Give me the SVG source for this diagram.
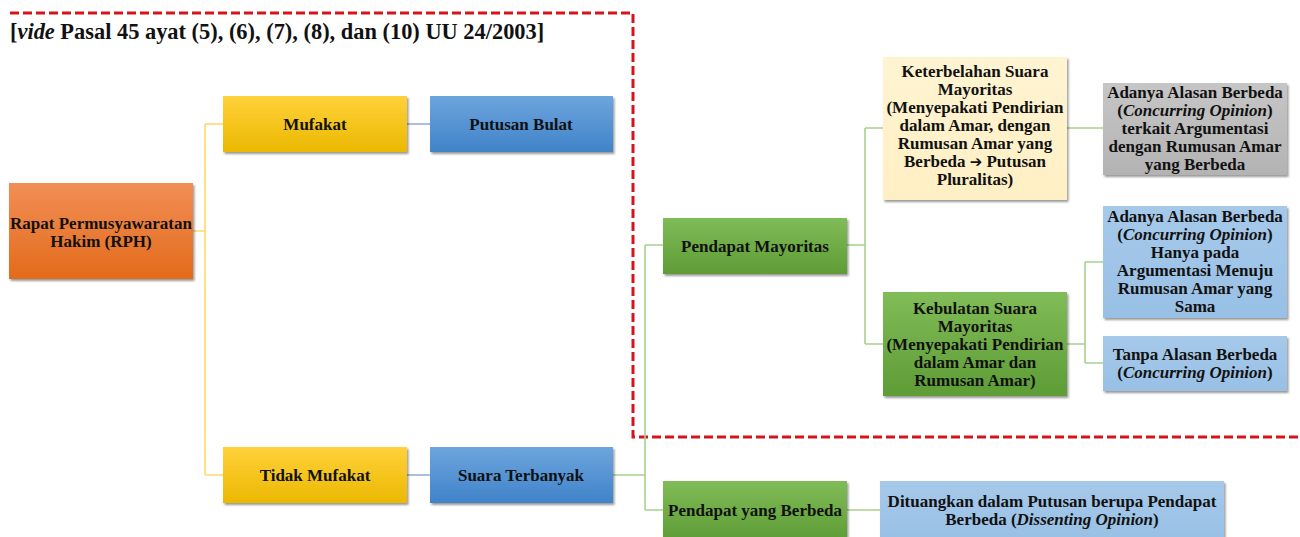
<svg xmlns="http://www.w3.org/2000/svg" width="1300" height="537" viewBox="0 0 1300 537" font-family="'Liberation Serif', 'Times New Roman', 'DejaVu Serif', serif">
<style>
text{font-family:"Liberation Serif","Times New Roman","DejaVu Serif",serif;font-weight:bold;font-size:17px;fill:#111;text-anchor:middle}
.title{font-size:22.4px;text-anchor:start}
.i{font-style:italic}
.ar{font-family:"DejaVu Sans",sans-serif;font-size:15px}
.c{fill:none;stroke-width:1.6}
.cy{stroke:#FFD966}
.cb{stroke:#8FAADC}
.cg{stroke:#A9D18E}
.box{filter:url(#sh)}
</style>
<defs>
<filter id="sh" x="-10%" y="-10%" width="125%" height="130%"><feDropShadow dx="1.5" dy="2" stdDeviation="1.3" flood-color="#000" flood-opacity="0.4"/></filter>
<linearGradient id="gOr" x1="0" y1="0" x2="0" y2="1"><stop offset="0" stop-color="#F28E55"/><stop offset="1" stop-color="#E26B1B"/></linearGradient>
<linearGradient id="gYe" x1="0" y1="0" x2="0" y2="1"><stop offset="0" stop-color="#FFD23C"/><stop offset="1" stop-color="#EBB800"/></linearGradient>
<linearGradient id="gBl" x1="0" y1="0" x2="0" y2="1"><stop offset="0" stop-color="#6DA5DE"/><stop offset="1" stop-color="#4083C9"/></linearGradient>
<linearGradient id="gGr" x1="0" y1="0" x2="0" y2="1"><stop offset="0" stop-color="#80BC57"/><stop offset="1" stop-color="#5E9C36"/></linearGradient>
<linearGradient id="gGy" x1="0" y1="0" x2="0" y2="1"><stop offset="0" stop-color="#C6C6C6"/><stop offset="1" stop-color="#B3B3B3"/></linearGradient>
<linearGradient id="gLb" x1="0" y1="0" x2="0" y2="1"><stop offset="0" stop-color="#A6C9EA"/><stop offset="1" stop-color="#98C0E5"/></linearGradient>
<linearGradient id="gLy" x1="0" y1="0" x2="0" y2="1"><stop offset="0" stop-color="#FFF4D2"/><stop offset="1" stop-color="#FFEFC4"/></linearGradient>
</defs>
<rect width="1300" height="537" fill="#fff"/>
<text class="title" x="10" y="39">[<tspan class="i">vide</tspan> Pasal 45 ayat (5), (6), (7), (8), dan (10) UU 24/2003]</text>
<path d="M10,13 H633 V437 H1300" fill="none" stroke="#D7141C" stroke-width="3" stroke-dasharray="9,4"/>
<g id="connectors">
<path class="c cy" d="M193,231 H205 M205,124 V475 M205,124 H223 M205,475 H223"/>
<path class="c cb" d="M407,124 H430 M407,475 H430"/>
<path class="c cg" d="M613,475 H645 M645,245 V510 M645,245 H663 M645,510 H663"/>
<path class="c cg" d="M847,245 H865 M865,128 V344 M865,128 H883 M865,344 H883"/>
<path class="c cg" d="M1067,128 H1103"/>
<path class="c cg" d="M1067,344 H1085 M1085,262 V363 M1085,262 H1103 M1085,363 H1103"/>
<path class="c cg" d="M847,510 H880"/>
</g>
<g id="rph"><rect class="box" x="9" y="183" width="184" height="96" fill="url(#gOr)"/><text x="101" y="229">Rapat Permusyawaratan</text><text x="101" y="247">Hakim (RPH)</text></g>
<g id="mufakat"><rect class="box" x="223" y="96" width="184" height="56" fill="url(#gYe)"/><text x="315" y="130">Mufakat</text></g>
<g id="putusan-bulat"><rect class="box" x="430" y="96" width="183" height="56" fill="url(#gBl)"/><text x="521" y="130">Putusan Bulat</text></g>
<g id="tidak-mufakat"><rect class="box" x="223" y="447" width="184" height="56" fill="url(#gYe)"/><text x="315" y="481">Tidak Mufakat</text></g>
<g id="suara-terbanyak"><rect class="box" x="430" y="447" width="183" height="56" fill="url(#gBl)"/><text x="521" y="481">Suara Terbanyak</text></g>
<g id="pendapat-mayoritas"><rect class="box" x="663" y="218" width="184" height="56" fill="url(#gGr)"/><text x="755" y="252">Pendapat Mayoritas</text></g>
<g id="keterbelahan"><rect class="box" x="883" y="57" width="184" height="143" fill="url(#gLy)"/>
<text x="975" y="77">Keterbelahan Suara</text><text x="975" y="95">Mayoritas</text><text x="975" y="113">(Menyepakati Pendirian</text><text x="975" y="131">dalam Amar, dengan</text><text x="975" y="149">Rumusan Amar yang</text><text x="975" y="167">Berbeda <tspan class="ar">➔</tspan> Putusan</text><text x="975" y="185">Pluralitas)</text></g>
<g id="concurring-berbeda"><rect class="box" x="1103" y="83" width="184" height="92" fill="url(#gGy)"/>
<text x="1195" y="98">Adanya Alasan Berbeda</text><text x="1195" y="116">(<tspan class="i">Concurring Opinion</tspan>)</text><text x="1195" y="134">terkait Argumentasi</text><text x="1195" y="152">dengan Rumusan Amar</text><text x="1195" y="170">yang Berbeda</text></g>
<g id="concurring-sama"><rect class="box" x="1103" y="206" width="184" height="112" fill="url(#gLb)"/>
<text x="1195" y="222">Adanya Alasan Berbeda</text><text x="1195" y="240">(<tspan class="i">Concurring Opinion</tspan>)</text><text x="1195" y="258">Hanya  pada</text><text x="1195" y="276">Argumentasi Menuju</text><text x="1195" y="294">Rumusan Amar yang</text><text x="1195" y="312">Sama</text></g>
<g id="kebulatan"><rect class="box" x="883" y="292" width="184" height="104" fill="url(#gGr)"/>
<text x="975" y="314">Kebulatan Suara</text><text x="975" y="332">Mayoritas</text><text x="975" y="350">(Menyepakati Pendirian</text><text x="975" y="368">dalam Amar dan</text><text x="975" y="386">Rumusan Amar)</text></g>
<g id="tanpa"><rect class="box" x="1103" y="336" width="184" height="55" fill="url(#gLb)"/>
<text x="1195" y="360">Tanpa Alasan Berbeda</text><text x="1195" y="378">(<tspan class="i">Concurring Opinion</tspan>)</text></g>
<g id="pendapat-berbeda"><rect class="box" x="663" y="481" width="184" height="60" fill="url(#gGr)"/><text x="755" y="516">Pendapat yang Berbeda</text></g>
<g id="dissenting"><rect class="box" x="880" y="481" width="344" height="60" fill="url(#gLb)"/>
<text x="1052" y="507">Dituangkan dalam Putusan berupa Pendapat</text><text x="1052" y="525">Berbeda (<tspan class="i">Dissenting Opinion</tspan>)</text></g>
</svg>
